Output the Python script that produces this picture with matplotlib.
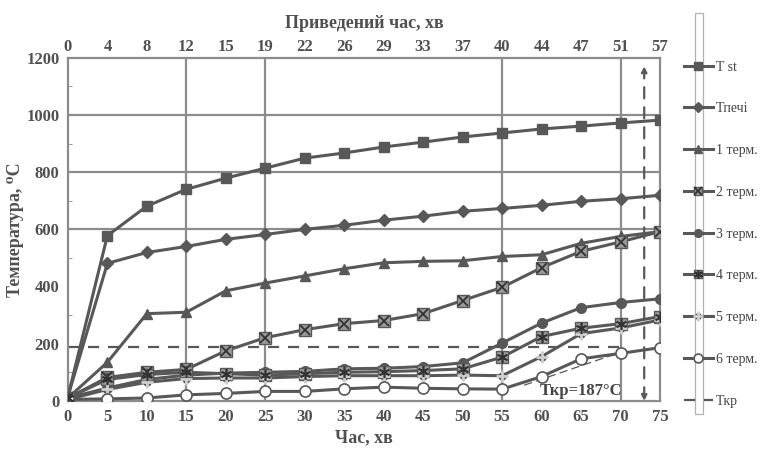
import numpy as np
import matplotlib.pyplot as plt
from matplotlib.patches import Rectangle
from matplotlib.legend_handler import HandlerTuple

plt.rcParams['font.family'] = ['Liberation Serif', 'DejaVu Serif']
plt.rcParams['font.weight'] = 'bold'
plt.rcParams['axes.labelweight'] = 'bold'

# час, хв
time = [0, 5, 10, 15, 20, 25, 30, 35, 40, 45, 50, 55, 60, 65, 70, 75]
# приведений час (верхня вісь)
reduced = ['0', '4', '8', '12', '15', '19', '22', '26', '29', '33', '37', '40', '44', '47', '51', '57']

t_st = [15, 578, 681, 740, 779, 814, 849, 867, 888, 905, 923, 937, 951, 961, 972, 982]
t_pechi = [15, 481, 519, 540, 565, 582, 600, 614, 632, 646, 663, 673, 684, 698, 707, 719]
term1 = [10, 135, 305, 310, 385, 412, 437, 462, 483, 488, 490, 505, 511, 551, 575, 592]
term2 = [10, 82, 100, 110, 175, 221, 249, 270, 281, 305, 351, 397, 466, 523, 556, 592]
term3 = [10, 45, 75, 90, 97, 100, 103, 112, 114, 120, 133, 202, 272, 326, 344, 357]
term4 = [10, 75, 92, 100, 95, 90, 95, 100, 102, 106, 112, 153, 225, 254, 270, 295]
term5 = [5, 40, 65, 78, 80, 80, 85, 88, 88, 88, 90, 88, 155, 235, 255, 283]
term6 = [5, 7, 10, 21, 26, 33, 33, 42, 48, 44, 42, 41, 85, 147, 166, 186]

t_kr = 187
t_kr_x = [0, 70]
arrow_x = 73

grid_x = [15, 25, 55, 70]
grid_y = [600, 800, 1000]

c = '#585858'
gc = '#8c8c8c'
tc = '#505050'

fig = plt.figure(figsize=(7.63, 4.55), dpi=100)
ax = fig.add_axes([0.089, 0.119, 0.776, 0.754])

for gx in grid_x:
    ax.axvline(gx, color=gc, lw=1.6, zorder=1)
for gy in grid_y:
    ax.axhline(gy, color=gc, lw=1.6, zorder=1)

kw = dict(color=c, lw=2.2, zorder=3)
h1, = ax.plot(time, t_st, marker='s', ms=7, mfc=c, mec=c, **kw)
h2, = ax.plot(time, t_pechi, marker='D', ms=6, mfc=c, mec=c, **kw)
h3, = ax.plot(time, term1, marker='^', ms=7, mfc=c, mec=c, **kw)
h4a, = ax.plot(time, term2, marker='s', ms=8, mfc='#9a9a9a', mec=c, **kw)
h4b, = ax.plot(time, term2, ls='none', marker='x', ms=7, mew=1.3, mec='#333333', zorder=4)
h5, = ax.plot(time, term3, marker='o', ms=7, mfc=c, mec=c, **kw)
h6a, = ax.plot(time, term4, marker='s', ms=8, mfc='#9a9a9a', mec=c, **kw)
h6b, = ax.plot(time, term4, ls='none', marker=(6, 2, 0), ms=8, mew=1.2, mec='#333333', zorder=4)
h7, = ax.plot(time, term5, marker='+', ms=9, mew=2, mec='#cfcfcf', **kw)
h7b, = ax.plot(time, term5, ls='none', marker='o', ms=5, mfc=c, mec=c, zorder=2)
h8, = ax.plot(time, term6, marker='o', ms=8, mfc='white', mec=c, mew=1.2, **kw)
h9, = ax.plot(t_kr_x, [t_kr, t_kr], color=c, lw=1.6, ls=(0, (5, 4)), zorder=2)

ax.annotate('', xy=(arrow_x, 1170), xytext=(arrow_x, 0),
            arrowprops=dict(arrowstyle='<|-|>', color=c, lw=1.6, ls=(0, (5, 4)),
                            mutation_scale=8, shrinkA=0, shrinkB=0), zorder=2)
ax.annotate('', xy=(70, 170), xytext=(57.5, 52),
            arrowprops=dict(arrowstyle='-', color=c, lw=0.9, ls=(0, (6, 4))), zorder=2)
ax.text(65, 8, 'Ткр=187°C', ha='center', va='bottom', fontsize=12, color='#444444',
        fontweight='bold', zorder=5)

ax.set_xlim(0, 75)
ax.set_ylim(0, 1200)
ax.set_xticks(time)
ax.set_yticks(range(0, 1201, 200))
ax.set_yticks(range(100, 1200, 200), minor=True)
ax.tick_params(axis='both', which='major', length=0, labelsize=12, colors=tc, pad=6)
ax.tick_params(axis='y', which='minor', direction='in', length=3, color=gc)
for s in ax.spines.values():
    s.set_color(gc)
    s.set_linewidth(1.6)
ax.set_xlabel('Час, хв', fontsize=13, color=tc, labelpad=3)
ax.set_ylabel('Температура, ⁰С', fontsize=13, color=tc, labelpad=2)

ax2 = ax.twiny()
ax2.set_xlim(0, 75)
ax2.set_xticks(time)
ax2.set_xticklabels(reduced)
ax2.tick_params(axis='x', length=0, labelsize=12, colors=tc, pad=2)
ax2.set_xlabel('Приведений час, хв', fontsize=13, color=tc, labelpad=8)
for s in ax2.spines.values():
    s.set_visible(False)

fig.patches.append(Rectangle((695 / 763, 1 - 414 / 455), 8 / 763, 401 / 455,
                             transform=fig.transFigure, fill=False, ec='#b0b0b0', lw=0.9))

handles = [h1, h2, h3, (h4a, h4b), h5, (h6a, h6b), (h7b, h7), h8, h9]
labels = ['T st', 'Tпечі', '1 терм.', '2 терм.', '3 терм.', '4 терм.', '5 терм.', '6 терм.', 'Tкр']
fig.legend(handles, labels, loc='upper left', bbox_to_anchor=(678 / 763, 1 - 55 / 455),
           frameon=False, prop={'size': 10, 'weight': 'normal'}, labelspacing=2.07,
           handlelength=2.1, handletextpad=0.2, borderaxespad=0, labelcolor='#444444',
           handler_map={tuple: HandlerTuple(ndivide=1, pad=0)}, markerscale=0.8)

fig.savefig('out.png', dpi=100)
